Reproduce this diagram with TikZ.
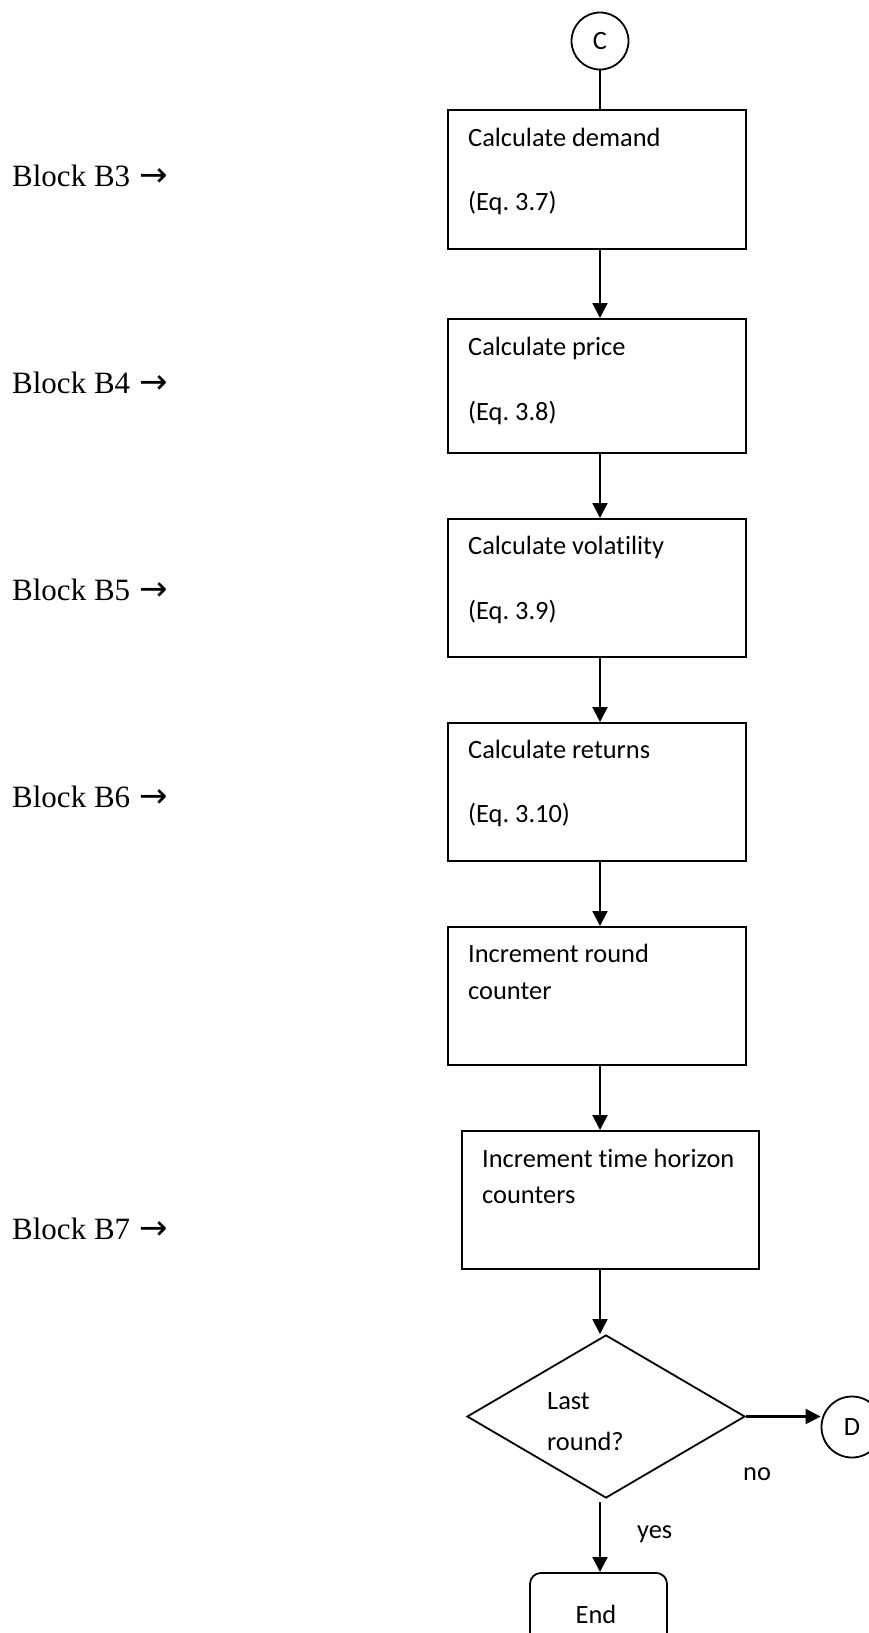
\documentclass[tikz,border=0pt]{standalone}
\usepackage{fontspec}
\setmainfont{Liberation Serif}
\newfontfamily\boxfont{Carlito}[Ligatures={NoCommon}]
\newfontfamily\symfont{DejaVu Sans}
\usetikzlibrary{arrows.meta,shapes.geometric}
\frenchspacing
\newcommand{\blkarrow}{\hspace{2pt}{\symfont\fontsize{34}{36}\selectfont →}}
\begin{document}
\begin{tikzpicture}[x=1pt,y=-1pt,
  stepbox/.style={draw, line width=1.8pt, inner sep=0pt, anchor=north west},
  endbox/.style={draw, line width=1.8pt, inner sep=0pt, rounded corners=11pt,
    minimum width=137pt, minimum height=90pt, anchor=north},
  decision/.style={draw, diamond, line width=1.8pt, inner sep=0pt,
    minimum width=278pt, minimum height=163pt},
  connector/.style={draw, circle, line width=1.8pt, inner sep=0pt,
    minimum size=57pt, font=\boxfont\fontsize{26.4}{30}\selectfont},
  link/.style={line width=2.2pt},
  flow/.style={line width=2.2pt, -{Triangle[length=15pt,width=15pt]}},
  txt/.style={anchor=base west, inner sep=0pt, font=\boxfont\fontsize{26.4}{30}\selectfont},
  blk/.style={anchor=base west, inner sep=0pt, font=\fontsize{31}{36}\selectfont},
]
\useasboundingbox (0,0) rectangle (869,1633);

% connector circles
\node[connector] (C) at (600,41) {C};
\node[connector, minimum size=61pt] (D) at (852,1427) {D};

% process boxes
\node[stepbox, minimum width=298pt, minimum height=139pt] (b1) at (447,109) {};
\node[stepbox, minimum width=298pt, minimum height=134pt] (b2) at (447,318) {};
\node[stepbox, minimum width=298pt, minimum height=138pt] (b3) at (447,518) {};
\node[stepbox, minimum width=298pt, minimum height=138pt] (b4) at (447,722) {};
\node[stepbox, minimum width=298pt, minimum height=138pt] (b5) at (447,926) {};
\node[stepbox, minimum width=297pt, minimum height=138pt] (b6) at (461,1130) {};

% decision and terminal
\node[decision] (dec) at (606,1416.5) {};
\node[endbox] (end) at (598.5,1572) {};

% box texts
\node[txt] (t1a) at (468,146) {Calculate demand};
\node[txt] (t1b) at (468,210) {(Eq. 3.7)};
\node[txt] (t2a) at (468,355) {Calculate price};
\node[txt] (t2b) at (468,420) {(Eq. 3.8)};
\node[txt] (t3a) at (468,554) {Calculate volatility};
\node[txt] (t3b) at (468,619) {(Eq. 3.9)};
\node[txt] (t4a) at (468,758) {Calculate returns};
\node[txt] (t4b) at (468,822) {(Eq. 3.10)};
\node[txt] (t5a) at (468,962) {Increment round};
\node[txt] (t5b) at (468,999) {counter};
\node[txt] (t6a) at (482,1167) {Increment time horizon};
\node[txt] (t6b) at (482,1203) {counters};
\node[txt] (q1) at (547,1409) {Last};
\node[txt] (q2) at (547,1450) {round?};
\node[txt] (no) at (743,1480) {no};
\node[txt] (yes) at (637,1538) {yes};
\node[txt, anchor=base] (endtxt) at (596,1623) {End};

% block labels
\node[blk] (lb3) at (12,186) {Block B3 \blkarrow};
\node[blk] (lb4) at (12,393) {Block B4 \blkarrow};
\node[blk] (lb5) at (12,600) {Block B5 \blkarrow};
\node[blk] (lb6) at (12,807) {Block B6 \blkarrow};
\node[blk] (lb7) at (12,1239) {Block B7 \blkarrow};

% flow lines
\draw[link] (C) -- (C |- b1.north);
\draw[flow] (b1.south -| C) -- (b2.north -| C);
\draw[flow] (b2.south -| C) -- (b3.north -| C);
\draw[flow] (b3.south -| C) -- (b4.north -| C);
\draw[flow] (b4.south -| C) -- (b5.north -| C);
\draw[flow] (b5.south -| C) -- (b6.north -| C);
\draw[flow] (b6.south -| C) -- (C |- dec.north);
\draw[flow] (dec.east) -- (dec.east -| D.west);
\draw[flow] ([yshift=-3.5pt]C |- dec.south) -- (C |- end.north);
\end{tikzpicture}
\end{document}
